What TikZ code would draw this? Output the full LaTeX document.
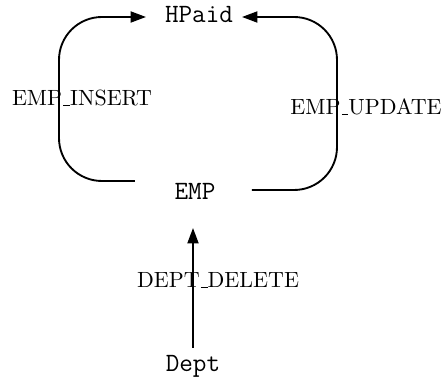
\documentclass[tikz,border=0pt]{standalone}
\usetikzlibrary{arrows.meta}
\newcommand\usc{\leavevmode\kern.06em\vbox{\hrule width.3em}}
\begin{document}
\begin{tikzpicture}[x=0.4545pt,y=-0.4545pt,
  rel/.style={font=\large\ttfamily, inner sep=0pt},
  lbl/.style={font=\normalsize, inner sep=0pt},
  conn/.style={line width=0.85pt, -{Triangle[length=7pt,width=5pt]}},
  edgeline/.style={line width=0.85pt, rounded corners=19.5pt}]
\useasboundingbox (0,0) rectangle (445,383);
\node[rel] (HPaid) at (199,15) {HPaid};
\node[rel] (EMP) at (195,191) {EMP};
\node[rel] (Dept) at (193,366) {Dept};
\coordinate (li) at (135,181);
\coordinate (lo) at (146,17);
\coordinate (ri) at (252,190);
\coordinate (ro) at (242,17);
\draw[edgeline,conn] (li) -- (59,181) -- (59,17) -- (lo);
\draw[edgeline,conn] (ri) -- (337,190) -- (337,17) -- (ro);
\draw[conn] (Dept.north) ++(0,-7) coordinate (dn) (dn) -- (193,228) coordinate (et);
\node[lbl] (l1) at (82,98) {EMP\usc INSERT};
\node[lbl] (l2) at (366,107) {EMP\usc UPDATE};
\node[lbl] (l3) at (218,280) {DEPT\usc DELETE};
\end{tikzpicture}
\end{document}
